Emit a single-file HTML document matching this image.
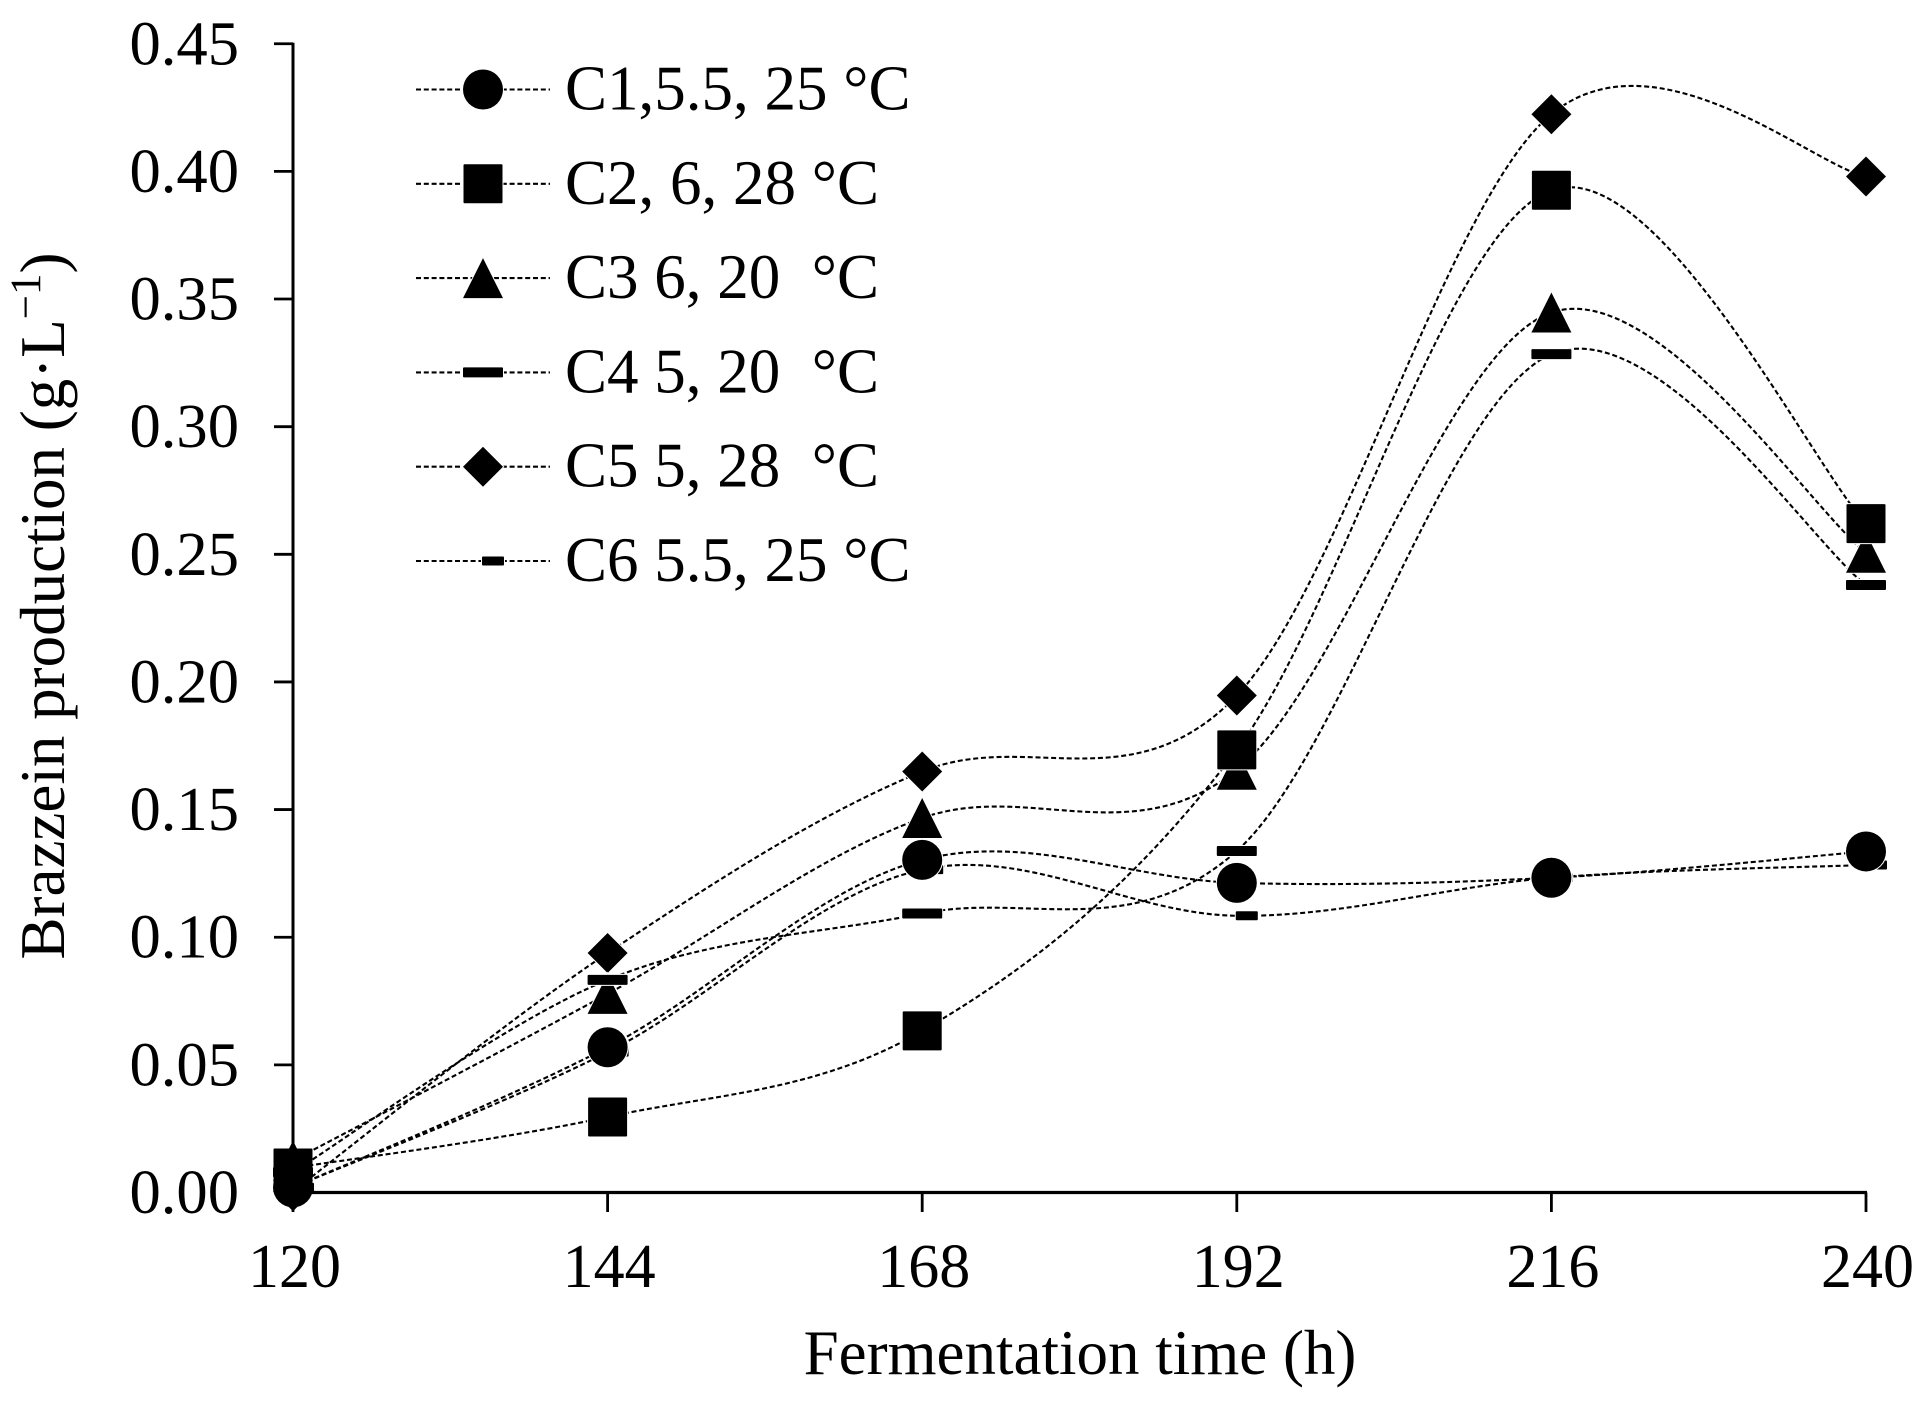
<!DOCTYPE html>
<html lang="en">
<head>
<meta charset="utf-8">
<title>Brazzein production vs fermentation time</title>
<style>
  html, body { margin: 0; padding: 0; background: #fff; }
  svg { display: block; }
  text { font-family: "Liberation Serif", serif; fill: #000; }
</style>
</head>
<body>
<svg id="chart" xmlns="http://www.w3.org/2000/svg" width="1929" height="1407" viewBox="0 0 1929 1407">
  <rect width="1929" height="1407" fill="#fff"/>
  <g id="axes"></g>
  <g id="lines"></g>
  <g id="markers"></g>
  <g id="legend"></g>
  <text x="1080" y="1374" font-size="63" text-anchor="middle">Fermentation time (h)</text>
  <text transform="translate(64,606) rotate(-90)" font-size="63" text-anchor="middle">Brazzein production (g·L<tspan font-size="43" dy="-24">−1</tspan><tspan dy="24">)</tspan></text>
</svg>
<script>
const categories = [120, 144, 168, 192, 216, 240];
const yTicks = [0, 0.05, 0.10, 0.15, 0.20, 0.25, 0.30, 0.35, 0.40, 0.45];
const c1Values = [0.002, 0.0569, 0.1303, 0.1213, 0.1233, 0.1336];
const c2Values = [0.0096, 0.0296, 0.0633, 0.1734, 0.3926, 0.262];
const c3Values = [0.0125, 0.0778, 0.1467, 0.1656, 0.3447, 0.2506];
const c4Values = [0.008, 0.0833, 0.1093, 0.1338, 0.3284, 0.238];
const c5Values = [0.0005, 0.0938, 0.1649, 0.1947, 0.4224, 0.398];
const c6Values = [0.002, 0.055, 0.1265, 0.1084, 0.1233, 0.1283];
const seriesNames = ["C1,5.5, 25 °C", "C2, 6, 28 °C", "C3 6, 20  °C", "C4 5, 20  °C", "C5 5, 28  °C", "C6 5.5, 25 °C"];
const seriesShapes = ["circle", "square", "triangle", "long-dash", "diamond", "short-dash"];
const seriesValues = [c1Values, c2Values, c3Values, c4Values, c5Values, c6Values];
const markerDrawOrder = [5, 4, 2, 3, 1, 0];

const NS = "http://www.w3.org/2000/svg";
const X0 = 293, X1 = 1866, Y0 = 1192.5, Y1 = 43.75;
const xScale = v => X0 + (v - categories[0]) / (categories[categories.length - 1] - categories[0]) * (X1 - X0);
const yScale = v => Y0 - v / 0.45 * (Y0 - Y1);
const make = (tag, parent) => parent.appendChild(document.createElementNS(NS, tag));
const axes = document.getElementById("axes");
const linesG = document.getElementById("lines");
const markersG = document.getElementById("markers");
const legendG = document.getElementById("legend");

function setLine(el, x1, y1, x2, y2, w) {
  el.setAttribute("x1", x1);
  el.setAttribute("y1", y1);
  el.setAttribute("x2", x2);
  el.setAttribute("y2", y2);
  el.setAttribute("stroke", "#000");
  el.setAttribute("stroke-width", w);
}

const yAxisLine = make("line", axes);


setLine(yAxisLine, X0, Y1 - 1, X0, Y0 + 1, 3);

const xAxisLine = make("line", axes);


setLine(xAxisLine, X0, Y0, X1 + 1, Y0, 3.2);

yTicks.forEach(t => {
  const y = yScale(t);
  const tick = make("line", axes);
  
  
  setLine(tick, 274, y, X0, y, 2.8);
  const label = make("text", axes);
  
  
  label.setAttribute("x", 239);
  label.setAttribute("y", y + 20.5);
  label.setAttribute("font-size", 62.6);
  label.setAttribute("text-anchor", "end");
  label.textContent = t.toFixed(2);
});

categories.forEach(c => {
  const x = xScale(c);
  const tick = make("line", axes);
  
  
  setLine(tick, x, Y0, x, 1212, 2.8);
  const label = make("text", axes);
  
  
  label.setAttribute("x", x + 1.5);
  label.setAttribute("y", 1287);
  label.setAttribute("font-size", 62);
  label.setAttribute("text-anchor", "middle");
  label.textContent = String(c);
});

function smoothPath(pts) {
  let d = "M" + pts[0][0].toFixed(2) + " " + pts[0][1].toFixed(2);
  for (let i = 0; i < pts.length - 1; i++) {
    const p0 = pts[Math.max(i - 1, 0)], p1 = pts[i], p2 = pts[i + 1], p3 = pts[Math.min(i + 2, pts.length - 1)];
    const c1x = p1[0] + (p2[0] - p0[0]) / 6, c1y = p1[1] + (p2[1] - p0[1]) / 6;
    const c2x = p2[0] - (p3[0] - p1[0]) / 6, c2y = p2[1] - (p3[1] - p1[1]) / 6;
    d += "C" + [c1x, c1y, c2x, c2y, p2[0], p2[1]].map(n => n.toFixed(2)).join(" ");
  }
  return d;
}

function drawMarker(parent, shape, x, y, halo) {
  const r = 20;
  let el;
  if (shape === "circle") {
    el = make("circle", parent);
    el.setAttribute("cx", x);
    el.setAttribute("cy", y);
    el.setAttribute("r", r);
  } else if (shape === "square") {
    el = make("rect", parent);
    el.setAttribute("x", x - r + 0.5);
    el.setAttribute("y", y - r + 0.5);
    el.setAttribute("width", 39);
    el.setAttribute("height", 39);
    el.setAttribute("rx", 1);
  } else if (shape === "triangle") {
    el = make("polygon", parent);
    el.setAttribute("points", [x, y - r, x + r, y + r, x - r, y + r].join(" "));
  } else if (shape === "diamond") {
    el = make("polygon", parent);
    el.setAttribute("points", [x, y - r, x + r, y, x, y + r, x - r, y].join(" "));
  } else if (shape === "long-dash") {
    el = make("rect", parent);
    el.setAttribute("x", x - r);
    el.setAttribute("y", y - 5);
    el.setAttribute("width", 40);
    el.setAttribute("height", 10);
    el.setAttribute("rx", 1);
  } else {
    el = make("rect", parent);
    el.setAttribute("x", x - 1);
    el.setAttribute("y", y - 4.5);
    el.setAttribute("width", 22);
    el.setAttribute("height", 9);
    el.setAttribute("rx", 1);
  }
  el.setAttribute("fill", "#000");
  if (halo) {
    el.setAttribute("stroke", "#fff");
    el.setAttribute("stroke-width", 2);
    el.setAttribute("paint-order", "stroke");
  }
  return el;
}

seriesValues.forEach((vals, s) => {
  const pts = vals.map((v, i) => [xScale(categories[i]), yScale(v)]);
  const path = make("path", linesG);
  
  
  path.setAttribute("d", smoothPath(pts));
  path.setAttribute("fill", "none");
  path.setAttribute("stroke", "#000");
  path.setAttribute("stroke-width", 2.1);
  path.setAttribute("stroke-dasharray", "5 2.8");
});

markerDrawOrder.forEach(s => {
  seriesValues[s].forEach((v, i) => {
    const m = drawMarker(markersG, seriesShapes[s], xScale(categories[i]), yScale(v), i > 0);
    
    
  });
});

seriesNames.forEach((name, s) => {
  const cy = 89.5 + s * 94.3;
  const line = make("line", legendG);
  
  
  setLine(line, 416, cy, 550, cy, 2.1);
  line.setAttribute("stroke-dasharray", "5 2.8");
  const m = drawMarker(legendG, seriesShapes[s], 483, cy, true);
  
  
  const label = make("text", legendG);
  
  
  label.setAttribute("x", 565);
  label.setAttribute("y", cy + 20);
  label.setAttribute("font-size", 63);
  label.style.whiteSpace = "pre";
  label.textContent = name;
});
</script>
</body>
</html>
